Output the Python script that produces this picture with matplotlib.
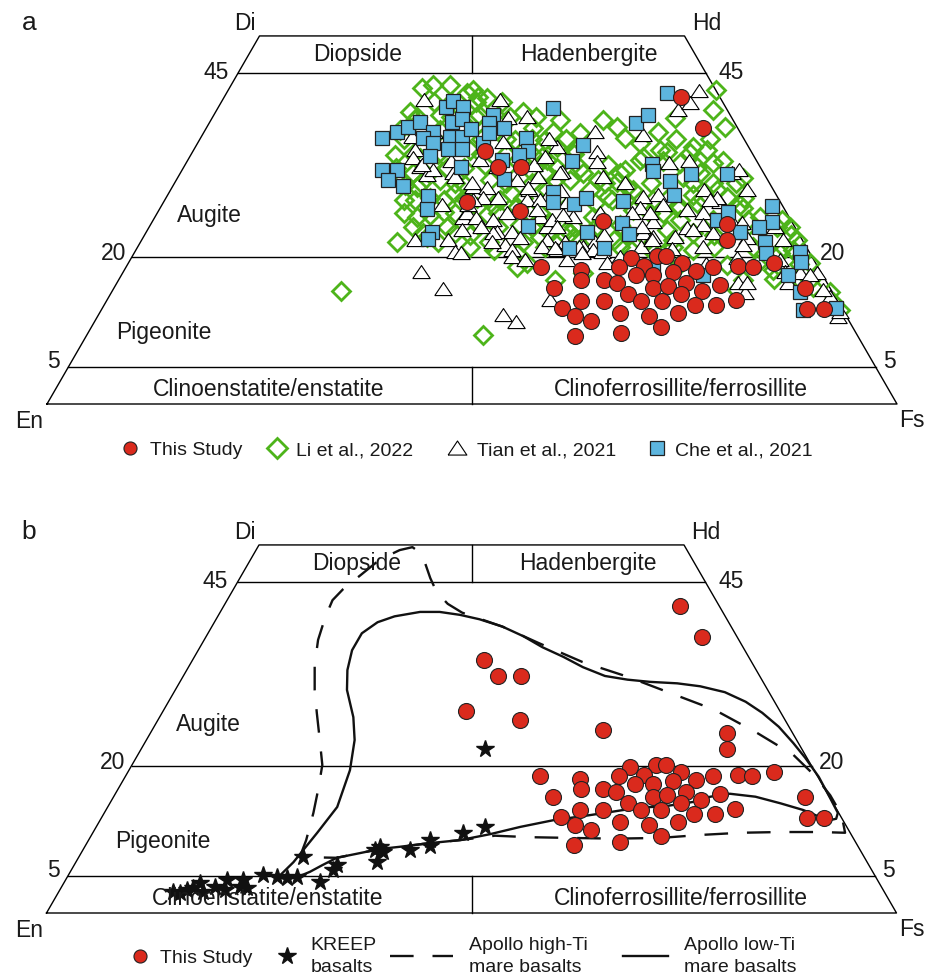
import numpy as np
import matplotlib
matplotlib.use("Agg")
import matplotlib.pyplot as plt

plt.rcParams['font.family'] = ['Liberation Sans', 'DejaVu Sans']

# compositions, in mol% (Wo, Fs); En = 100 - Wo - Fs
this_wo = [41.7, 37.5, 34.4, 32.2, 32.2, 27.4, 26.2, 24.9, 24.5, 22.3,
           18.6, 18.2, 16.9, 19.9, 20.1, 20.1, 18.6, 18.7, 19.1, 17.9,
           18.0, 18.6, 18.7, 18.6, 19.1, 15.8, 16.8, 16.4, 17.5, 17.5,
           15.8, 16.0, 16.4, 15.0, 15.4, 16.2, 15.0, 15.8, 13.1, 14.0,
           14.0, 14.0, 14.0, 13.4, 13.4, 14.1, 11.9, 11.3, 12.3, 11.9,
           12.3, 12.9, 12.9, 9.2, 9.6, 10.5]
this_fs = [53.7, 58.4, 34.3, 37.0, 39.7, 35.7, 42.6, 53.0, 67.8, 68.9,
           48.8, 53.7, 54.4, 58.7, 61.7, 62.8, 58.0, 60.9, 65.1, 64.7,
           67.4, 69.1, 72.0, 73.7, 76.0, 51.7, 57.1, 58.8, 60.5, 62.6,
           63.4, 65.0, 67.0, 67.1, 69.3, 71.1, 60.9, 81.3, 54.0, 55.8,
           58.5, 62.9, 65.3, 69.5, 72.0, 74.0, 56.2, 58.4, 61.3, 64.9,
           68.1, 83.0, 85.0, 57.5, 62.7, 67.0]

li_wo = [42.9, 43.3, 43.3, 42.2, 42.7, 39.7, 31.4, 29.5, 27.7, 27.7,
         26.1, 28.7, 25.4, 22.0, 23.2, 26.8, 23.2, 15.4, 41.7, 41.6,
         39.7, 37.5, 35.9, 37.0, 34.9, 33.6, 31.8, 31.4, 30.4, 29.1,
         22.7, 28.0, 27.0, 28.7, 26.8, 25.9, 22.7, 21.3, 20.5, 33.4,
         32.7, 33.1, 36.8, 38.6, 37.6, 36.1, 35.5, 37.0, 38.9, 39.9,
         37.6, 34.1, 34.5, 32.7, 32.2, 30.8, 34.2, 33.1, 31.8, 32.5,
         30.2, 32.1, 30.4, 30.0, 29.1, 27.7, 28.1, 27.3, 25.0, 23.6,
         22.7, 25.9, 23.6, 26.8, 27.3, 29.1, 28.1, 24.6, 21.3, 21.3,
         20.9, 22.3, 23.6, 21.9, 24.6, 42.7, 34.5, 34.9, 31.4, 32.7,
         33.6, 31.4, 30.4, 31.4, 29.5, 27.7, 25.4, 26.4, 27.7, 25.9,
         26.8, 28.4, 30.7, 26.6, 25.4, 24.0, 24.0, 22.3, 25.0, 23.2,
         22.3, 22.3, 21.3, 22.3, 23.2, 23.2, 22.3, 20.9, 21.3, 21.3,
         21.3, 20.5, 18.6, 19.2, 16.8, 17.8, 20.9, 20.9, 18.9, 16.8,
         15.5, 18.2, 19.2, 15.2, 12.8, 15.9, 9.4, 20.9, 30.0, 27.0,
         21.3, 20.0, 16.8, 13.9, 37.2, 38.6, 39.3, 33.8, 29.8, 30.4,
         29.8, 30.4, 27.7, 24.3, 24.3, 23.0, 38.6, 35.9, 39.3, 34.5,
         32.5, 37.2, 27.7, 25.7, 38.6, 34.5, 29.1, 24.3,
         41.0, 41.0, 41.0, 41.0, 39.0, 39.0, 39.0, 39.0, 39.0, 36.0,
         36.0, 36.0, 36.0, 36.0, 36.0, 36.0, 34.0, 34.0, 34.0, 34.0,
         34.0, 34.0, 32.0, 32.0, 32.0, 32.0, 32.0, 30.0, 30.0, 30.0,
         30.0, 28.0, 28.0, 28.0, 28.0, 28.0, 26.0, 26.0, 26.0, 26.0,
         24.0, 24.0, 24.0, 24.0, 24.0, 22.0, 22.0, 22.0, 36.0, 36.0,
         33.0, 33.0, 30.0, 30.0, 30.0, 28.0, 28.0, 28.0, 25.0, 25.0,
         25.0, 23.0, 23.0, 23.0, 23.0, 19.0, 19.0, 19.0, 17.0, 17.0]
li_fs = [22.7, 23.8, 25.8, 28.3, 28.8, 22.9, 27.4, 28.8, 28.1, 32.8,
         33.6, 33.5, 30.8, 30.2, 32.6, 37.2, 36.4, 26.9, 29.8, 31.0,
         36.2, 38.4, 40.6, 41.0, 42.5, 41.4, 40.9, 43.1, 44.6, 44.3,
         33.4, 36.6, 39.0, 40.2, 41.9, 43.9, 46.7, 47.9, 45.1, 27.2,
         29.1, 42.3, 44.3, 46.1, 48.3, 50.0, 52.0, 53.4, 54.4, 58.4,
         61.0, 58.6, 60.4, 62.0, 60.4, 59.4, 55.8, 53.2, 52.1, 49.7,
         52.0, 46.6, 46.3, 50.6, 54.4, 54.3, 52.0, 50.8, 52.8, 49.4,
         50.6, 58.0, 61.1, 61.1, 62.8, 64.3, 66.0, 67.7, 63.0, 60.0,
         58.2, 55.5, 52.4, 48.8, 46.9, 57.3, 54.9, 58.6, 61.1, 58.1,
         53.3, 51.7, 49.6, 47.4, 53.5, 52.6, 51.5, 55.7, 57.4, 59.5,
         60.7, 61.8, 66.5, 68.6, 71.2, 73.9, 75.4, 77.1, 65.9, 64.4,
         62.5, 59.5, 56.8, 53.1, 49.9, 47.6, 43.7, 42.1, 39.1, 67.8,
         72.4, 76.0, 46.0, 46.9, 51.4, 54.2, 62.5, 65.6, 70.6, 73.5,
         73.4, 76.3, 80.2, 84.5, 86.9, 82.2, 46.6, 77.3, 63.4, 68.0,
         75.9, 78.6, 81.4, 85.5, 22.9, 24.0, 26.6, 24.0, 27.2, 31.0,
         34.3, 36.9, 39.4, 43.5, 38.8, 38.3, 34.0, 37.1, 31.2, 32.5,
         35.3, 27.6, 29.5, 32.2, 41.1, 44.9, 49.3, 55.3,
         25.0, 27.0, 30.0, 33.0, 24.0, 28.0, 31.0, 35.0, 38.0, 24.0,
         27.0, 30.0, 33.0, 36.0, 39.0, 43.0, 26.0, 29.0, 34.0, 37.0,
         40.0, 45.0, 25.0, 31.0, 33.0, 38.0, 44.0, 29.0, 33.0, 39.0,
         42.0, 31.0, 35.0, 38.0, 42.0, 46.0, 29.0, 35.0, 40.0, 45.0,
         31.0, 35.0, 41.0, 45.0, 50.0, 35.0, 41.0, 45.0, 56.0, 60.0,
         56.0, 63.0, 56.0, 61.0, 66.0, 59.0, 63.0, 68.0, 62.0, 70.0,
         74.0, 57.0, 67.0, 72.0, 76.0, 65.0, 74.0, 79.0, 77.0, 80.0]

tian_wo = [41.3, 36.3, 34.5, 33.4, 32.2, 31.1, 31.8, 31.4, 29.5, 25.3,
           23.6, 22.3, 22.3, 20.6, 25.9, 17.9, 15.6, 41.3, 38.9, 32.5,
           30.8, 29.3, 28.0, 27.0, 25.3, 25.0, 23.4, 25.9, 23.4, 21.6,
           22.6, 30.4, 29.1, 30.8, 32.5, 33.6, 34.9, 35.6, 33.1, 32.2,
           27.7, 25.4, 24.0, 22.3, 37.0, 36.5, 39.9, 34.2, 32.9, 31.5,
           30.8, 32.7, 28.1, 28.1, 28.4, 26.6, 24.7, 29.1, 26.4, 25.9,
           27.4, 26.4, 25.4, 25.0, 23.9, 24.3, 23.2, 22.7, 22.0, 21.3,
           22.0, 20.9, 21.3, 40.9, 31.4, 42.5, 31.8, 29.1, 28.0, 25.9,
           29.3, 27.7, 31.4, 27.4, 25.7, 26.4, 23.2, 27.7, 25.9, 24.0,
           22.7, 23.6, 23.2, 24.6, 23.2, 22.6, 24.0, 21.3, 21.3, 20.9,
           21.3, 20.9, 20.5, 22.0, 12.1, 11.1, 20.0, 19.6, 21.2, 19.6,
           20.5, 20.6, 19.2, 22.3, 21.6, 16.4, 15.1, 16.4, 16.4, 17.8,
           17.8, 14.5, 11.8, 14.1, 20.0, 19.8, 22.3, 19.6, 17.9, 17.5,
           15.5, 12.5, 27.7, 24.6,
           37.0, 35.0, 33.0, 30.0, 27.0, 24.0, 29.0, 26.0, 23.0, 30.0,
           27.0, 33.0, 25.0, 21.0, 19.0, 36.0, 39.0, 28.0, 24.0]
tian_fs = [23.7, 24.8, 26.0, 26.4, 27.8, 29.2, 29.5, 32.1, 35.4, 36.3,
           37.0, 32.2, 36.0, 37.7, 36.5, 35.0, 38.8, 32.6, 34.8, 27.9,
           32.6, 37.1, 37.3, 36.0, 37.8, 40.0, 41.2, 41.2, 43.0, 43.1,
           44.3, 40.1, 42.1, 42.4, 41.0, 41.8, 42.5, 35.8, 34.4, 36.8,
           42.6, 45.3, 46.8, 47.7, 46.0, 51.9, 54.3, 47.6, 48.3, 44.8,
           50.0, 56.8, 44.8, 56.1, 57.7, 56.5, 59.0, 62.7, 62.1, 64.2,
           65.5, 48.1, 49.2, 46.9, 63.3, 65.0, 58.5, 60.0, 53.5, 52.4,
           49.9, 49.5, 66.5, 55.2, 64.9, 55.5, 65.5, 67.8, 64.8, 58.0,
           41.9, 44.2, 44.7, 47.5, 47.8, 44.4, 40.9, 36.3, 55.9, 58.0,
           62.5, 64.2, 66.8, 68.4, 69.9, 71.1, 73.6, 59.2, 51.9, 53.8,
           47.6, 44.3, 38.4, 41.4, 47.6, 49.6, 44.7, 46.4, 49.2, 51.4,
           52.7, 55.0, 56.3, 60.0, 71.1, 73.1, 74.6, 74.2, 79.0, 79.7,
           81.7, 84.9, 87.2, 52.1, 57.4, 71.3, 75.4, 76.4, 77.9, 81.0,
           83.5, 87.0, 64.2, 69.5,
           27.0, 31.0, 31.0, 35.0, 33.0, 39.0, 46.0, 52.0, 54.0, 53.0,
           59.0, 59.0, 67.0, 63.0, 68.0, 41.0, 37.0, 39.0, 48.0]

che_wo = [36.1, 37.0, 37.6, 38.3, 37.0, 36.1, 35.5, 33.7, 40.3, 41.2,
          40.3, 38.3, 38.7, 36.3, 36.3, 37.4, 34.6, 34.6, 32.2, 35.5,
          39.3, 38.2, 36.8, 37.5, 33.1, 36.1, 34.4, 33.8, 30.6, 40.2,
          28.8, 27.4, 24.2, 31.8, 31.8, 30.4, 29.6, 28.3, 26.5, 23.4,
          22.4, 35.2, 33.0, 27.2, 28.0, 38.2, 39.3, 32.6, 31.7, 30.3,
          28.4, 31.2, 31.2, 27.6, 24.6, 23.1, 23.4, 21.2, 21.2, 42.2,
          25.0, 26.1, 26.9, 24.7, 24.0, 23.4, 22.0, 20.5, 17.5, 20.6,
          19.3, 15.2, 12.8, 13.0, 17.5, 18.6]
che_fs = [21.4, 22.7, 23.7, 24.7, 26.9, 26.2, 27.7, 28.2, 26.8, 27.2,
          28.8, 28.5, 29.5, 29.3, 30.7, 31.2, 29.9, 31.5, 32.6, 33.5,
          32.8, 32.9, 33.6, 35.0, 37.0, 38.3, 39.4, 38.6, 38.5, 39.4,
          45.1, 45.8, 44.5, 23.5, 25.3, 24.9, 27.1, 30.7, 31.4, 33.6,
          33.6, 45.5, 45.3, 48.4, 49.4, 50.2, 51.1, 54.9, 55.5, 58.2,
          59.6, 60.2, 64.4, 54.0, 55.3, 56.9, 51.8, 50.8, 54.9, 51.8,
          66.3, 67.1, 71.9, 73.0, 71.8, 69.8, 73.5, 74.3, 78.4, 78.3,
          79.0, 81.0, 82.5, 86.3, 68.4, 62.0]

kreep_wo = [22.3, 11.7, 10.9, 9.9, 9.1, 8.6, 9.0, 8.3, 6.9, 8.6,
            6.5, 5.8, 7.6, 4.2, 4.9, 4.8, 4.9, 5.2, 4.5, 3.4,
            4.5, 3.5, 4.1, 3.4, 3.1, 2.7, 2.9, 3.5, 2.9, 3.1]
kreep_fs = [40.4, 45.7, 43.6, 40.2, 40.6, 38.5, 34.7, 35.4, 35.4, 34.3,
            30.9, 30.8, 26.4, 30.1, 27.0, 25.9, 24.7, 22.9, 20.9, 21.9,
            19.0, 18.1, 16.0, 15.5, 15.0, 14.4, 17.0, 21.0, 13.4, 19.5]

# field outlines (Apollo mare basalts)
low_ti_wo = [4.8, 6.9, 10.9, 14.4, 19.4, 23.5, 26.6, 30.3, 33.0, 35.7,
             38.0, 39.5, 40.3, 40.9, 40.9, 40.5, 39.9, 38.9, 37.6, 36.1,
             34.8, 33.4, 32.2, 31.7, 31.4, 31.2, 30.8, 30.0, 28.7, 27.2,
             25.3, 23.1, 21.1, 18.5, 15.6, 13.6, 12.8, 12.6, 13.3, 14.0,
             14.9, 15.8, 16.2, 15.8, 15.1, 14.5, 14.3, 13.7, 13.3, 12.6,
             11.7, 10.7, 9.9, 9.5, 9.0, 8.7, 8.0, 7.5, 6.5, 5.6,
             4.9, 4.6, 4.8]
low_ti_fs = [24.8, 25.6, 26.4, 27.0, 26.0, 24.5, 22.8, 20.2, 18.9, 18.1,
             18.1, 19.2, 20.8, 23.5, 25.8, 28.4, 31.0, 34.2, 37.3, 40.3,
             43.4, 46.4, 49.6, 52.5, 55.3, 58.6, 61.5, 64.8, 67.9, 70.6,
             73.5, 76.3, 78.7, 81.6, 84.4, 86.3, 86.5, 85.8, 83.8, 82.0,
             78.9, 75.5, 72.3, 70.2, 68.6, 65.5, 62.4, 59.4, 57.3, 53.3,
             49.9, 46.8, 43.7, 40.4, 37.1, 34.9, 32.3, 30.4, 29.2, 28.2,
             27.1, 26.1, 24.8]

high_ti_wo = [7.6, 9.9, 13.6, 16.7, 20.1, 23.5, 27.2, 30.3, 33.7, 37.1,
              40.2, 42.5, 44.0, 45.9, 48.0, 49.3, 49.7, 49.0, 47.5, 45.5,
              43.6, 42.0, 40.8, 39.8, 38.9, 36.7, 34.1, 32.1, 29.9, 27.6,
              24.5, 21.5, 18.7, 16.0, 13.3, 10.9, 11.0, 11.0, 10.9, 10.6,
              10.2, 10.1, 10.2, 10.3, 10.5, 9.9, 9.5, 9.0, 8.7, 8.0,
              7.5, 7.6]
high_ti_fs = [26.0, 25.6, 24.6, 23.6, 22.4, 20.4, 18.2, 16.4, 14.7, 13.4,
              12.7, 12.4, 12.9, 14.0, 15.2, 16.9, 18.2, 19.4, 20.8, 22.4,
              24.1, 26.2, 28.5, 31.5, 34.2, 39.5, 46.0, 52.3, 58.4, 64.8,
              71.3, 77.1, 81.0, 84.2, 86.9, 88.5, 85.5, 80.8, 76.2, 71.6,
              67.1, 61.8, 56.5, 51.7, 47.5, 43.7, 40.4, 37.1, 34.9, 32.3,
              30.4, 26.0]

RED = '#DA2A1D'
GREEN = '#4DB41A'
BLUE = '#5DB5DE'
S3 = np.sqrt(3) / 2
FS = 16.5
TRI = [(-1, -0.7), (1, -0.7), (0, 0.8), (-1, -0.7)]


def tern(wo, fs):
    wo = np.asarray(wo, dtype=float) / 100
    fs = np.asarray(fs, dtype=float) / 100
    return fs + wo / 2, wo * S3


def frame(ax, tag):
    lw = 1.0
    x, y = tern([0, 0, 50, 50, 0], [0, 100, 50, 0, 0])
    ax.plot(x, y, color='k', lw=lw)
    for wo in (45, 20, 5):
        x, y = tern([wo, wo], [0, 100 - wo])
        ax.plot(x, y, color='k', lw=lw)
    for w0, w1 in ((45, 50), (0, 5)):
        x, y = tern([w0, w1], [50 - w0 / 2, 50 - w1 / 2])
        ax.plot(x, y, color='k', lw=lw)

    txt = dict(fontsize=FS, ha='center', va='baseline', color='#1a1a1a')
    ax.text(0.233, 0.440, 'Di', **txt)
    ax.text(0.776, 0.440, 'Hd', **txt)
    ax.text(-0.021, -0.028, 'En', **txt)
    ax.text(1.018, -0.027, 'Fs', **txt)
    ax.text(0.199, 0.382, '45', **txt)
    ax.text(0.805, 0.382, '45', **txt)
    ax.text(0.078, 0.169, '20', **txt)
    ax.text(0.924, 0.169, '20', **txt)
    ax.text(0.008, 0.042, '5', **txt)
    ax.text(0.991, 0.042, '5', **txt)
    ax.text(0.365, 0.4035, 'Diopside', **txt)
    ax.text(0.637, 0.4035, 'Hadenbergite', **txt)
    ax.text(0.191, 0.214, 'Augite', **txt)
    ax.text(0.137, 0.0765, 'Pigeonite', **txt)
    ax.text(0.2606, 0.0094, 'Clinoenstatite/enstatite', **txt)
    ax.text(0.746, 0.0094, 'Clinoferrosillite/ferrosillite', **txt)
    ax.text(-0.021, 0.440, tag, fontsize=19, ha='center', va='baseline',
            color='#1a1a1a')
    ax.axis('off')


fig = plt.figure(figsize=(9.34, 9.77), dpi=100)
ax_a = fig.add_axes([0, 489 / 977, 1, 488 / 977])
ax_b = fig.add_axes([0, 0, 1, 489 / 977])
ax_a.set_xlim(-47 / 850, 887 / 850)
ax_a.set_ylim(-84 / 850, 404 / 850)
ax_b.set_xlim(-46.5 / 850, 887.5 / 850)
ax_b.set_ylim(-64 / 850, 425 / 850)

# ---- panel a
frame(ax_a, 'a')
x, y = tern(li_wo, li_fs)
ax_a.plot(x, y, 'D', ms=9.5, mfc='none', mec=GREEN, mew=2.0, ls='none')
x, y = tern(tian_wo, tian_fs)
ax_a.plot(x, y, marker=TRI, ms=12.5, mfc='white', mec='k', mew=0.8, ls='none')
x, y = tern(che_wo, che_fs)
ax_a.plot(x, y, 's', ms=9.6, mfc=BLUE, mec='#222222', mew=0.9, ls='none')
x, y = tern(this_wo, this_fs)
ax_a.plot(x, y, 'o', ms=11.5, mfc=RED, mec='#222222', mew=0.8, ls='none')

ky, ty = -0.0518, -0.060
lg = dict(fontsize=14, ha='left', va='baseline', color='#1a1a1a')
ax_a.plot(0.0976, ky, 'o', ms=9.4, mfc=RED, mec='#222222', mew=0.8, clip_on=False)
ax_a.text(0.1212, ty, 'This Study', **lg)
ax_a.plot(0.2706, ky, 'D', ms=10, mfc='none', mec=GREEN, mew=2.0, clip_on=False)
ax_a.text(0.2929, ty, 'Li et al., 2022', **lg)
ax_a.plot(0.4824, ky, marker=TRI, ms=13.5, mfc='white', mec='k', mew=0.8, clip_on=False)
ax_a.text(0.5059, ty, 'Tian et al., 2021', **lg)
ax_a.plot(0.7176, ky, 's', ms=10, mfc=BLUE, mec='#222222', mew=0.9, clip_on=False)
ax_a.text(0.7388, ty, 'Che et al., 2021', **lg)

# ---- panel b
frame(ax_b, 'b')
x, y = tern(high_ti_wo, high_ti_fs)
ax_b.plot(x, y, color='#111111', lw=1.7, dashes=(10, 8))
x, y = tern(low_ti_wo, low_ti_fs)
ax_b.plot(x, y, color='#111111', lw=1.7)
x, y = tern(kreep_wo, kreep_fs)
ax_b.plot(x, y, '*', ms=13, color='#111111', ls='none')
x, y = tern(this_wo, this_fs)
ax_b.plot(x, y, 'o', ms=11.5, mfc=RED, mec='#222222', mew=0.8, ls='none')

ky = -0.0506
ax_b.plot(0.110, ky, 'o', ms=9.4, mfc=RED, mec='#222222', mew=0.8, clip_on=False)
ax_b.text(0.1335, -0.0588, 'This Study', **lg)
ax_b.plot(0.283, ky, '*', ms=13, color='#111111', clip_on=False)
ax_b.text(0.311, -0.0435, 'KREEP', **lg)
ax_b.text(0.311, -0.0694, 'basalts', **lg)
ax_b.plot([0.404, 0.478], [ky, ky], color='#111111', lw=1.7, dashes=(10, 8),
          clip_on=False)
ax_b.text(0.497, -0.0435, 'Apollo high-Ti', **lg)
ax_b.text(0.497, -0.0694, 'mare basalts', **lg)
ax_b.plot([0.678, 0.731], [ky, ky], color='#111111', lw=1.7, clip_on=False)
ax_b.text(0.750, -0.0435, 'Apollo low-Ti', **lg)
ax_b.text(0.750, -0.0694, 'mare basalts', **lg)

fig.savefig('out.png', dpi=100)
